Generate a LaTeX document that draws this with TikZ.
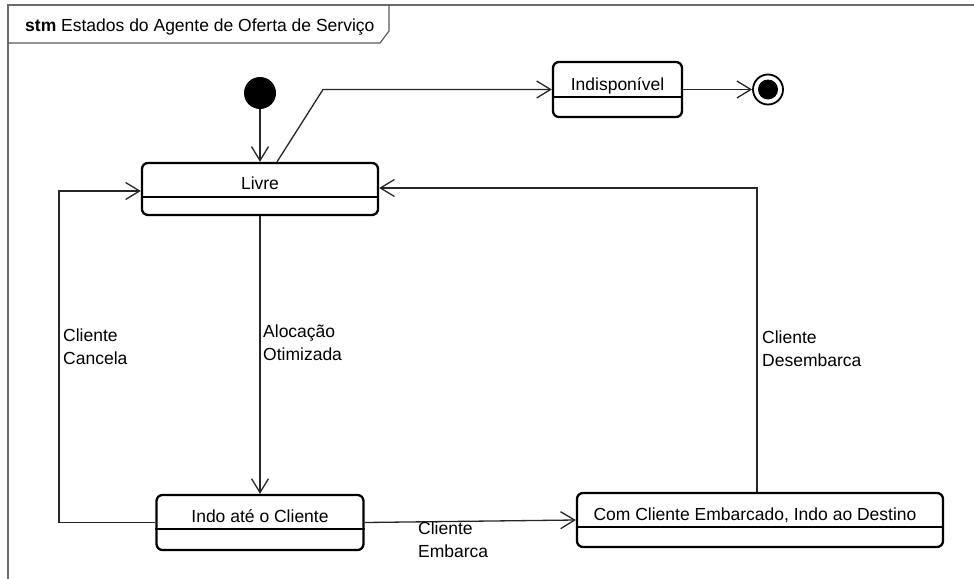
\documentclass[tikz,border=0pt]{standalone}
\usepackage{fontspec}
\setmainfont{Liberation Sans}
\usetikzlibrary{arrows.meta}
\begin{document}
\begin{tikzpicture}[x=1pt,y=-1pt,
  every node/.style={font=\fontsize{17.5}{23}\selectfont},
  statebox/.style={draw=black,line width=2.3pt,rounded corners=6pt,fill=white,inner sep=0pt},
  stext/.style={anchor=base,inner sep=0pt},
  divider/.style={draw=black,line width=1.3pt},
  conn/.style={draw=black!85,line width=1.3pt,-{Straight Barb[length=14pt,width=17pt,line width=1.3pt]}},
  elabel/.style={anchor=west,align=left,inner sep=0pt},
  framel/.style={draw=black!58,line width=2pt}]
\useasboundingbox (0,0) rectangle (974,578);
% frame
\draw[framel] (8,600) -- (8,5.5) -- (990,5.5);
\draw[draw=black!65,line width=1.2pt] (8,43) -- (380,43) -- (389,31) -- (389,5.5);
\node[anchor=base west,inner sep=0pt] (title) at (25,32) {\textbf{stm} Estados do Agente de Oferta de Serviço};
% pseudo-states
\node[circle,fill=black,minimum size=32pt,inner sep=0pt] (init) at (260,93) {};
\node[circle,draw=black,line width=1.8pt,fill=white,minimum size=30pt,inner sep=0pt] (final) at (768,89.5) {};
\node[circle,fill=black,minimum size=20pt,inner sep=0pt] (finalin) at (final.center) {};
% states
\node[statebox,minimum width=236pt,minimum height=52pt] (livre) at (260,189) {};
\node[stext] (livreT) at (260,189) {Livre};
\draw[divider] (livre.west |- 0,197) -- (livre.east |- 0,197);

\node[statebox,minimum width=129pt,minimum height=55pt] (indisp) at (617.5,89.5) {};
\node[stext] (indispT) at (617.5,90) {Indisponível};
\draw[divider] (indisp.west |- 0,97) -- (indisp.east |- 0,97);

\node[statebox,minimum width=207pt,minimum height=55pt] (indo) at (260,522.5) {};
\node[stext] (indoT) at (260,522) {Indo até o Cliente};
\draw[divider] (indo.west |- 0,529) -- (indo.east |- 0,529);

\node[statebox,minimum width=366pt,minimum height=54pt] (com) at (760,520) {};
\node[stext] (comT) at (755,520) {Com Cliente Embarcado, Indo ao Destino};
\draw[divider] (com.west |- 0,527) -- (com.east |- 0,527);

% connectors
\coordinate (k1) at (323,89.5);
\coordinate (c1) at (59,300);
\coordinate (c2) at (757,300);
\draw[conn] (init) -- (livre.north);
\draw[conn] ([xshift=17pt]livre.north) -- (k1) -- (indisp.west);
\draw[conn] (indisp.east) -- (final.west);
\draw[conn] (livre.south) -- (indo.north);
\draw[conn] (indo.west) -| (c1) |- ([yshift=-2pt]livre.west);
\draw[conn] (indo.east) -- (com.west);
\draw[conn] ([xshift=-3pt]com.north) |- ([yshift=1pt]livre.east);
% labels
\node[elabel] (lcancela) at (63,347) {Cliente\\Cancela};
\node[elabel] (laloc) at (263,343) {Alocação\\Otimizada};
\node[elabel] (ldesemb) at (762,349) {Cliente\\Desembarca};
\node[elabel] (lemb) at (418,540) {Cliente\\Embarca};
\end{tikzpicture}
\end{document}
